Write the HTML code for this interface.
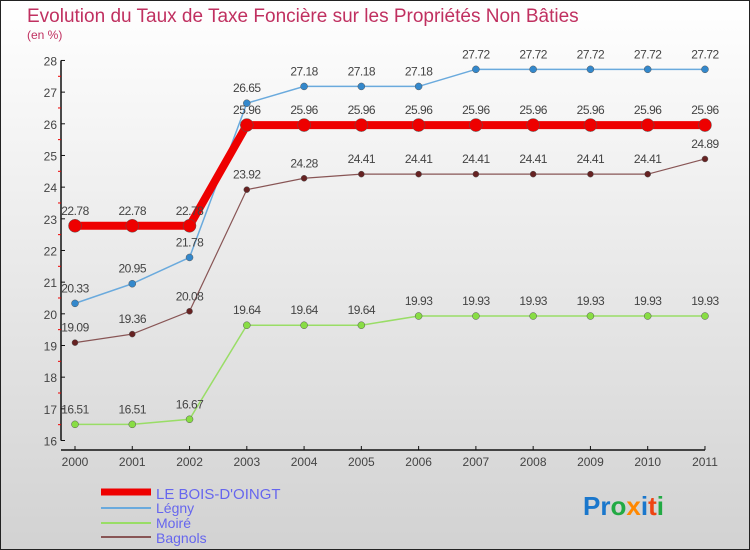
<!DOCTYPE html>
<html><head><meta charset="utf-8"><style>
body{margin:0}
#c{width:748px;height:548px;border:1px solid #222;background:linear-gradient(#ffffff,#d2d2d2);position:relative;font-family:"Liberation Sans",sans-serif;overflow:hidden}
</style></head><body>
<div id="c">
<svg id="s" width="748" height="548" xmlns="http://www.w3.org/2000/svg">
<text x="26" y="21" font-size="19" fill="#c03060">Evolution du Taux de Taxe Foncière sur les Propriétés Non Bâties</text>
<text x="26" y="38" font-size="12" fill="#c03060">(en %)</text>
<g id="axes"></g><g id="series"></g>
<g>
<line x1="100" y1="491" x2="150" y2="491" stroke="#ee0000" stroke-width="7"/>
<text x="155" y="498" font-size="15" fill="#6666ee">LE BOIS-D'OINGT</text>
<line x1="100" y1="507" x2="150" y2="507" stroke="#6aaadd" stroke-width="2"/>
<text x="155" y="512" font-size="14" fill="#6666ee">Légny</text>
<line x1="100" y1="522" x2="150" y2="522" stroke="#99dd66" stroke-width="2"/>
<text x="155" y="527" font-size="14" fill="#6666ee">Moiré</text>
<line x1="100" y1="536" x2="150" y2="536" stroke="#885555" stroke-width="2"/>
<text x="155" y="542" font-size="14" fill="#6666ee">Bagnols</text>
</g>
<text x="582" y="514" font-size="26" font-weight="bold"><tspan fill="#1a77cc">Pr</tspan><tspan fill="#22aa44">o</tspan><tspan fill="#ff8800">x</tspan><tspan fill="#1a77cc">i</tspan><tspan fill="#ee4411">t</tspan><tspan fill="#22aa44">i</tspan></text>
</svg></div>
<script>
const years=[2000,2001,2002,2003,2004,2005,2006,2007,2008,2009,2010,2011];
const bois=[22.78,22.78,22.78,25.96,25.96,25.96,25.96,25.96,25.96,25.96,25.96,25.96];
const legny=[20.33,20.95,21.78,26.65,27.18,27.18,27.18,27.72,27.72,27.72,27.72,27.72];
const moire=[16.51,16.51,16.67,19.64,19.64,19.64,19.93,19.93,19.93,19.93,19.93,19.93];
const bagnols=[19.09,19.36,20.08,23.92,24.28,24.41,24.41,24.41,24.41,24.41,24.41,24.89];
const yTicks=[16,17,18,19,20,21,22,23,24,25,26,27,28];
const NS="http://www.w3.org/2000/svg";
const x=i=>74+i*57.27;
const y=v=>439.5-(v-16)*31.67;
function mk(t,a,p){const e=document.createElementNS(NS,t);for(const k in a)e.setAttribute(k,a[k]);p.appendChild(e);return e;}
const ax=document.getElementById('axes');
const yl=mk('line',{x1:60,y1:y(28),x2:60,y2:y(16),stroke:'#111','stroke-width':1.5},ax);


const xl=mk('line',{x1:60,y1:449,x2:704,y2:449,stroke:'#111','stroke-width':1.5},ax);


yTicks.forEach(v=>{
 mk('line',{x1:60,y1:y(v),x2:64,y2:y(v),stroke:'#111'},ax);
 if(v<28)mk('line',{x1:57,y1:y(v+0.5),x2:60,y2:y(v+0.5),stroke:'#e00'},ax);
 const t=mk('text',{x:56,y:y(v)+5,'font-size':12,'text-anchor':'end',fill:'#444'},ax);t.textContent=v;
 
 
});
years.forEach((yr,i)=>{
 mk('line',{x1:x(i),y1:445,x2:x(i),y2:449,stroke:'#111'},ax);
 const t=mk('text',{x:x(i),y:465,'font-size':12,'text-anchor':'middle',fill:'#444'},ax);t.textContent=yr;
 
 
});
const sg=document.getElementById('series');
function series(d,col,w,r,dot,name){
 const g=mk('g',{},sg);
 
 
 mk('polyline',{points:d.map((v,i)=>x(i)+','+y(v)).join(' '),fill:'none',stroke:col,'stroke-width':w},g);
 d.forEach((v,i)=>{
  const c=mk('circle',{cx:x(i),cy:y(v),r:r,fill:dot,stroke:'#555','stroke-width':0.5},g);
  
  
  const t=mk('text',{x:x(i),y:y(v)-11,'font-size':12,'text-anchor':'middle',fill:'#444','letter-spacing':'-0.5'},g);
  t.textContent=v.toFixed(2).replace(/0$/,'');
  
  
 });
}
series(moire,'#99dd66',1.5,3.5,'#88dd44','moire-series');
series(bagnols,'#885555',1.2,3,'#662222','bagnols-series');
series(legny,'#6aaadd',1.5,3.5,'#3388cc','legny-series');
series(bois,'#ee0000',8,6.5,'#ee0000','le-bois-doingt-series');
</script>
</body></html>
